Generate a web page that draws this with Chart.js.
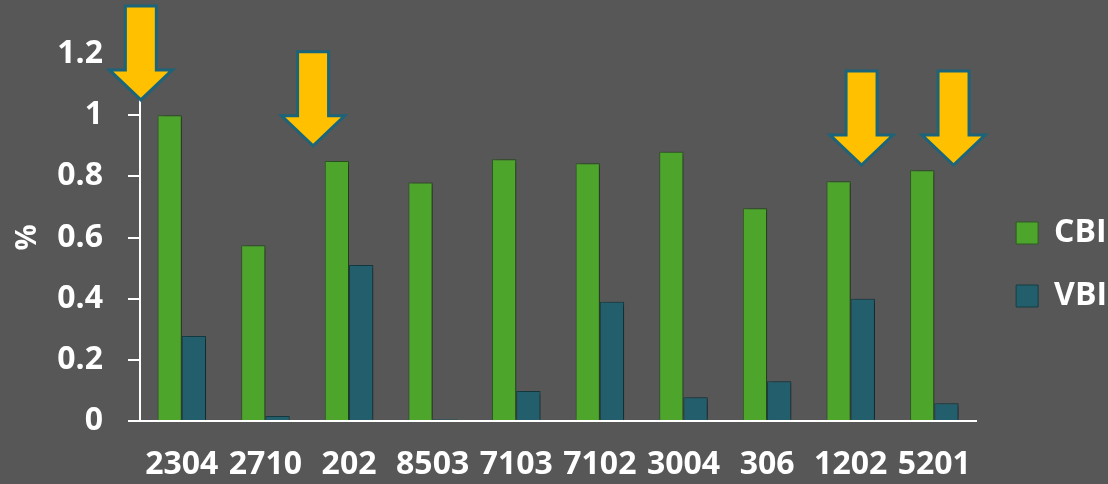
<!DOCTYPE html>
<html>
<head>
<meta charset="utf-8">
<script src="https://cdn.jsdelivr.net/npm/chart.js@4.4.1/dist/chart.umd.min.js"></script>
<style>
  html, body { margin: 0; padding: 0; background: #575757; }
  #wrap { width: 1108px; height: 484px; position: relative; }
</style>
</head>
<body>
<div id="wrap"><canvas id="c" width="1108" height="484"></canvas></div>
<script>
// ---- data ----
const categories = ['2304', '2710', '202', '8503', '7103', '7102', '3004', '306', '1202', '5201'];
const cbiValues = [1.0, 0.575, 0.85, 0.78, 0.856, 0.843, 0.88, 0.696, 0.784, 0.82];
const vbiValues = [0.278, 0.016, 0.51, 0.006, 0.098, 0.39, 0.078, 0.13, 0.40, 0.058];
const seriesNames = ['CBI', 'VBI'];
const yTickLabels = ['0', '0.2', '0.4', '0.6', '0.8', '1', '1.2'];
const yTitle = '%';
// arrow annotations: x in category units, tip in value units
const arrowX = [-0.49, 1.57, 8.13, 9.23];
const arrowTip = [1.05, 0.90, 0.837, 0.837];

const FONT = '"Open Sans", "DejaVu Sans", sans-serif';

const shadowPlugin = {
  id: 'barShadow',
  beforeDatasetsDraw(chart) {
    const ctx = chart.ctx;
    ctx.save();
    ctx.shadowColor = 'rgba(0,0,0,0.45)';
    ctx.shadowBlur = 5;
    ctx.shadowOffsetX = 3;
    ctx.shadowOffsetY = 1;
  },
  afterDatasetsDraw(chart) {
    chart.ctx.restore();
  }
};

const legendShift = {
  id: 'legendShift',
  afterLayout(chart) {
    if (chart.legend) { chart.legend.left += 9; chart.legend.right += 9; }
  }
};

const arrowPlugin = {
  id: 'arrows',
  afterDraw(chart) {
    const ctx = chart.ctx;
    const xs = chart.scales.x, ys = chart.scales.y;
    ctx.save();
    ctx.fillStyle = '#FFC000';
    ctx.strokeStyle = '#1B647A';
    ctx.lineWidth = 3;
    ctx.lineJoin = 'miter';
    for (let i = 0; i < arrowX.length; i++) {
      const cx = xs.getPixelForValue(arrowX[i]);
      const tip = ys.getPixelForValue(arrowTip[i]);
      const shaftHalf = 15.5, headHalf = 31.5, headH = 30, total = 94;
      ctx.beginPath();
      ctx.moveTo(cx - shaftHalf, tip - total);
      ctx.lineTo(cx + shaftHalf, tip - total);
      ctx.lineTo(cx + shaftHalf, tip - headH);
      ctx.lineTo(cx + headHalf, tip - headH);
      ctx.lineTo(cx, tip);
      ctx.lineTo(cx - headHalf, tip - headH);
      ctx.lineTo(cx - shaftHalf, tip - headH);
      ctx.closePath();
      ctx.fill();
      ctx.stroke();
    }
    ctx.restore();
  }
};

new Chart(document.getElementById('c'), {
  type: 'bar',
  data: {
    labels: categories,
    datasets: [
      { label: seriesNames[0], data: cbiValues, backgroundColor: '#4EA52C', borderColor: '#2E5A22', borderWidth: 1,
        categoryPercentage: 0.58, barPercentage: 1.0 },
      { label: seriesNames[1], data: vbiValues, backgroundColor: '#225E6B', borderColor: '#163E46', borderWidth: 1,
        categoryPercentage: 0.58, barPercentage: 1.0 }
    ]
  },
  options: {
    responsive: false,
    animation: false,
    devicePixelRatio: 1,
    layout: { padding: { top: 54, left: 6, right: 0, bottom: 0 } },
    plugins: {
      legend: {
        position: 'right',
        fullSize: false,
        title: { display: true, text: '', font: { size: 10 }, padding: { top: 42, bottom: 0 } },
        labels: {
          color: '#FFFFFF',
          font: { family: FONT, size: 32, weight: 'bold' },
          boxWidth: 22,
          boxHeight: 22,
          padding: 31
        }
      },
      tooltip: { enabled: false }
    },
    scales: {
      x: {
        grid: { display: true, drawOnChartArea: false, drawTicks: false },
        border: { display: true, color: '#FFFFFF', width: 2 },
        ticks: {
          color: '#FFFFFF', font: { family: FONT, size: 32, weight: 'bold' },
          autoSkip: false, maxRotation: 0, minRotation: 0, padding: 25
        },
        afterFit(scale) { scale.height = 63; }
      },
      y: {
        min: 0, max: 1.2,
        grid: { display: true, drawOnChartArea: false, drawTicks: true, tickLength: 12, color: '#FFFFFF', lineWidth: 2 },
        border: { display: true, color: '#FFFFFF', width: 2 },
        ticks: {
          stepSize: 0.2, color: '#FFFFFF', font: { family: FONT, size: 32, weight: 'bold' }, padding: 25,
          callback: (v, i) => yTickLabels[i]
        },
        title: { display: true, text: yTitle, color: '#FFFFFF', font: { family: FONT, size: 29, weight: 'bold' } },
        afterFit(scale) { scale.width = 134; }
      }
    }
  },
  plugins: [shadowPlugin, legendShift, arrowPlugin]
});
</script>
</body>
</html>
